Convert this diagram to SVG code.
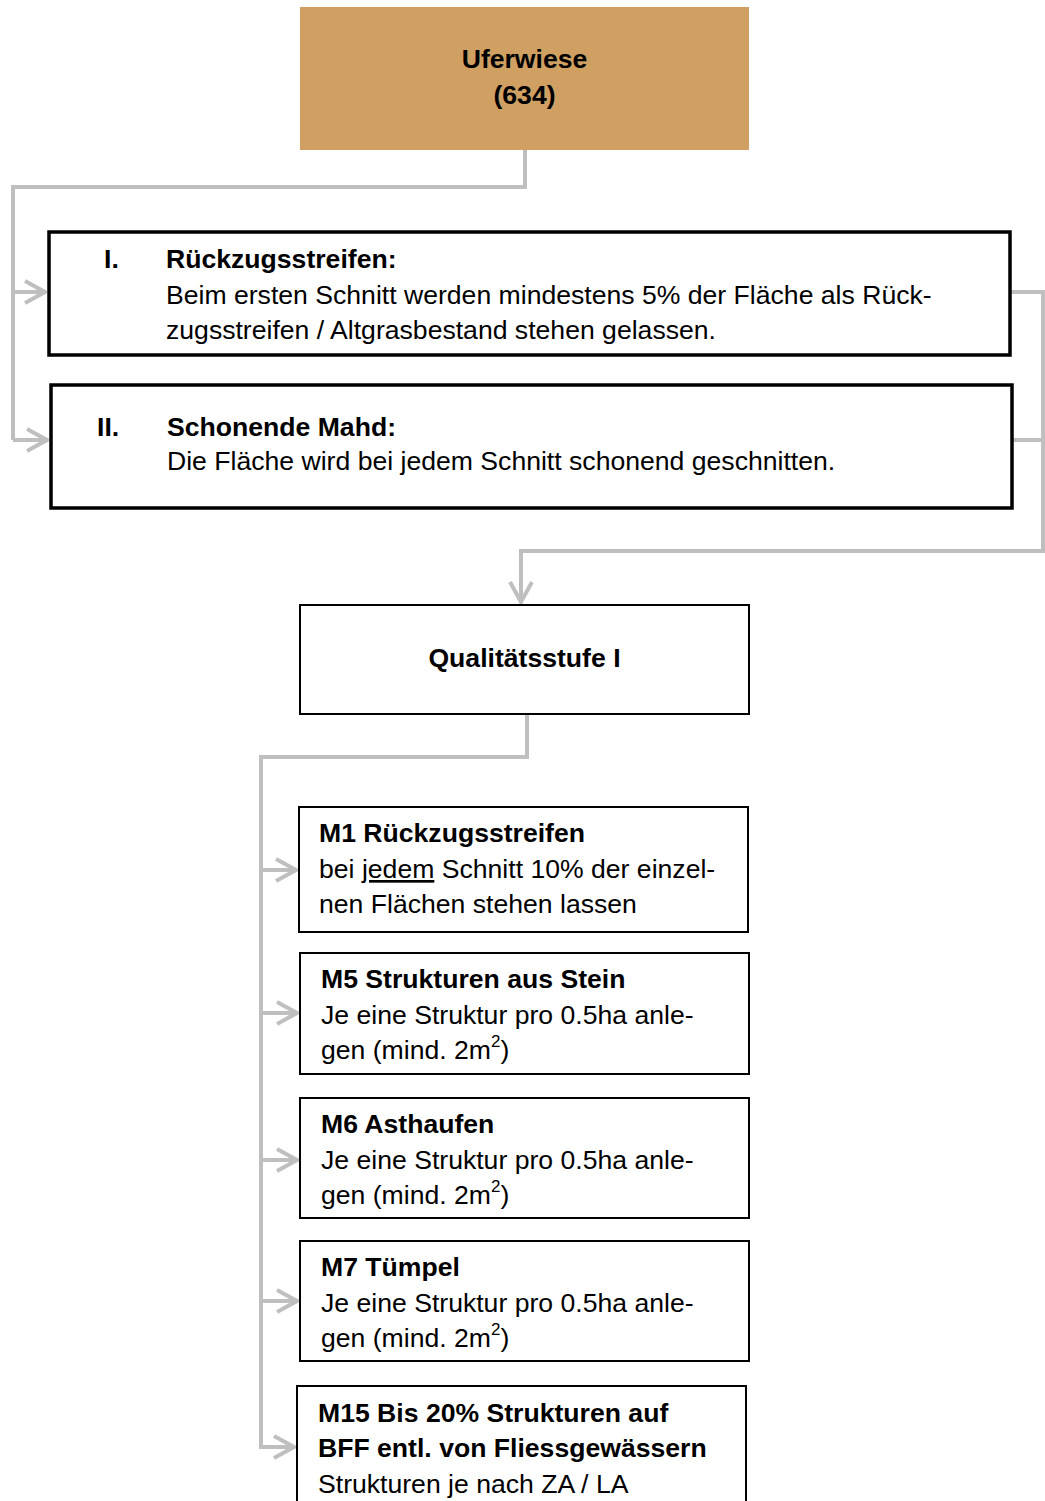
<svg xmlns="http://www.w3.org/2000/svg" width="1045" height="1501" viewBox="0 0 1045 1501">
<defs>
<marker id="arr" markerUnits="userSpaceOnUse" viewBox="0 0 24 26" refX="22" refY="13" markerWidth="24" markerHeight="26" orient="auto">
<path d="M2,2 L22,13 L2,24" fill="none" stroke="#BFBFBF" stroke-width="4"/>
</marker>
<style>
text{font-family:"Liberation Sans",Arial,sans-serif;font-size:26.6px;fill:#000}
.b{font-weight:bold}
.c{text-anchor:middle}
.con{fill:none;stroke:#BFBFBF;stroke-width:4}
.box{fill:#fff;stroke:#000;stroke-width:2}
.bbox{fill:#fff;stroke:#000;stroke-width:3.5}
</style>
</defs>
<rect width="1045" height="1501" fill="#fff"/>
<g id="connectors">
<polyline class="con" points="525,150 525,187 13,187 13,440"/>
<line class="con" x1="13" y1="292" x2="45" y2="292" marker-end="url(#arr)"/>
<line class="con" x1="13" y1="440" x2="47" y2="440" marker-end="url(#arr)"/>
<polyline class="con" points="1010,292 1043,292 1043,551 521,551 521,602" marker-end="url(#arr)"/>
<line class="con" x1="1012" y1="440" x2="1043" y2="440"/>
<polyline class="con" points="527,714 527,757 261,757 261,1447"/>
<line class="con" x1="261" y1="870" x2="296" y2="870" marker-end="url(#arr)"/>
<line class="con" x1="261" y1="1013" x2="297" y2="1013" marker-end="url(#arr)"/>
<line class="con" x1="261" y1="1160" x2="297" y2="1160" marker-end="url(#arr)"/>
<line class="con" x1="261" y1="1301" x2="297" y2="1301" marker-end="url(#arr)"/>
<line class="con" x1="259" y1="1447" x2="294" y2="1447" marker-end="url(#arr)"/>
</g>
<g id="uferwiese">
<rect x="300" y="7" width="449" height="143" fill="#CFA062"/>
<text class="b c" x="524.5" y="68">Uferwiese</text>
<text class="b c" x="524.5" y="104">(634)</text>
</g>
<g id="rueckzugsstreifen">
<rect class="bbox" x="49" y="232" width="961" height="123"/>
<text class="b" x="104" y="268">I.</text>
<text class="b" x="166" y="268">Rückzugsstreifen:</text>
<text x="166" y="304">Beim ersten Schnitt werden mindestens 5% der Fläche als Rück-</text>
<text x="166" y="339">zugsstreifen / Altgrasbestand stehen gelassen.</text>
</g>
<g id="schonende-mahd">
<rect class="bbox" x="51" y="385" width="961" height="123"/>
<text class="b" x="97" y="436">II.</text>
<text class="b" x="167" y="436">Schonende Mahd:</text>
<text x="167" y="470">Die Fläche wird bei jedem Schnitt schonend geschnitten.</text>
</g>
<g id="qualitaetsstufe">
<rect class="box" x="300" y="605" width="449" height="109"/>
<text class="b c" x="524.5" y="667">Qualitätsstufe I</text>
</g>
<g id="m1">
<rect class="box" x="299" y="807" width="449" height="125"/>
<text class="b" x="319" y="842">M1 Rückzugsstreifen</text>
<text x="319" y="878">bei <tspan text-decoration="underline">jedem</tspan> Schnitt 10% der einzel-</text>
<text x="319" y="913">nen Flächen stehen lassen</text>
</g>
<g id="m5">
<rect class="box" x="300" y="953" width="449" height="121"/>
<text class="b" x="321" y="988">M5 Strukturen aus Stein</text>
<text x="321" y="1024">Je eine Struktur pro 0.5ha anle-</text>
<text x="321" y="1059">gen (mind. 2m<tspan font-size="17" dy="-12">2</tspan><tspan dy="12">)</tspan></text>
</g>
<g id="m6">
<rect class="box" x="300" y="1098" width="449" height="120"/>
<text class="b" x="321" y="1133">M6 Asthaufen</text>
<text x="321" y="1169">Je eine Struktur pro 0.5ha anle-</text>
<text x="321" y="1204">gen (mind. 2m<tspan font-size="17" dy="-12">2</tspan><tspan dy="12">)</tspan></text>
</g>
<g id="m7">
<rect class="box" x="300" y="1241" width="449" height="120"/>
<text class="b" x="321" y="1276">M7 Tümpel</text>
<text x="321" y="1312">Je eine Struktur pro 0.5ha anle-</text>
<text x="321" y="1347">gen (mind. 2m<tspan font-size="17" dy="-12">2</tspan><tspan dy="12">)</tspan></text>
</g>
<g id="m15">
<rect class="box" x="297" y="1386" width="449" height="130"/>
<text class="b" x="318" y="1422">M15 Bis 20% Strukturen auf</text>
<text class="b" x="318" y="1457">BFF entl. von Fliessgewässern</text>
<text x="318" y="1493">Strukturen je nach ZA / LA</text>
</g>
</svg>
